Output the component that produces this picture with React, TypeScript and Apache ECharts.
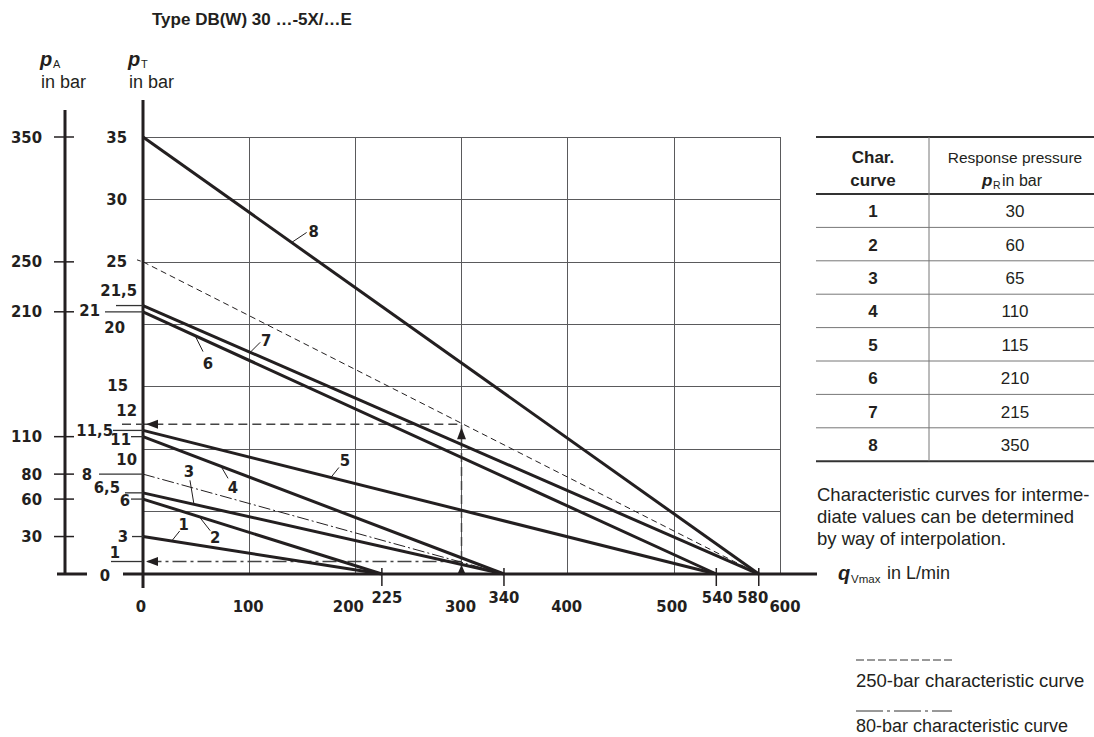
import React, { useEffect, useRef } from "react";
import * as echarts from "echarts";

// ---------------- data ----------------
const curveIds = ["1", "2", "3", "4", "5", "6", "7", "8"];
const curveStartPT = [3, 6, 6.5, 11, 11.5, 21, 21.5, 35];
const curveEndQ = [225, 225, 340, 340, 540, 540, 580, 580];
const responsePressure = [30, 60, 65, 110, 115, 210, 215, 350];
const curve250 = [[0, 25], [580, 0]];
const curve80 = [[0, 8], [340, 0]];
const readingQ = 300;
const readingPT250 = 12;
const readingPT80 = 1;
const xTickValues = [0, 100, 200, 300, 400, 500, 600];
const xExtraTickValues = [225, 340, 540, 580];
const pTLabelValues = [35, 30, 25, 21.5, 21, 20, 15, 12, 11.5, 11, 10, 8, 6.5, 6, 3, 1, 0];
const pTLabelTexts = ["35", "30", "25", "21,5", "21", "20", "15", "12", "11,5", "11", "10", "8", "6,5", "6", "3", "1", "0"];
const pALabelValues = [350, 250, 210, 110, 80, 60, 30];
const pTLeaderValues = [21.5, 21, 11.5, 11, 8, 6.5, 6, 3, 1];
const curveLabelAnchorQ = [27, 53, 48, 73.5, 177, 49, 101, 140];
const noteLines = [
  "Characteristic curves for interme-",
  "diate values can be determined",
  "by way of interpolation.",
];

// ---------------- layout / style ----------------
const INK = "#231f20";
const GRIDC = "#5a5a5c";
const NUMFONT = '"DejaVu Sans Condensed", "Liberation Sans Narrow", Roboto, sans-serif';
const TXTFONT = '"Liberation Sans", Arial, Helvetica, sans-serif';
const xLabelDx = [-2, -1, -7, -1, -1, -2, 5];
const xExtraDx = [5, 0, 1, -6];
const pTLabelRight = [127, 127, 127, 137, 100, 125, 128, 137, 113, 131, 137, 92, 120, 130, 128, 120, 110];
const pTLabelDy = [0, 0, 0, -15, -1, 3, -1, -14, 0, 3, 10, 0, -5, 1, 0, -9, 1];
const pTLeaderFromX = [116, 105, 113, 131, 99, 125, 131, 132, 111];
const curveLeaderEnd = [[8, -10], [11, 14], [-4, -24], [7, 12], [8, -10], [8, 16], [10, -10], [15, -10]];
const curveLabelPos = [[12, -17], [16, 21], [-5, -33], [12, 21], [14, -17], [13, 28], [16, -12], [22, -11]];

export default function App() {
  const ref = useRef<HTMLDivElement>(null);
  useEffect(() => {
    document.body.style.margin = "0";
    const chart = echarts.init(ref.current!, null, { renderer: "svg" });

    const curveSeries = curveIds.map((id, i) => ({
      name: "curve " + id,
      type: "line",
      data: [[0, curveStartPT[i]], [curveEndQ[i], 0]],
      symbol: "none",
      silent: true,
      z: 5,
      lineStyle: { color: INK, width: 3 },
    }));

    chart.setOption({
      animation: false,
      backgroundColor: "#ffffff",
      grid: { left: 143, top: 137, width: 637, height: 437 },
      xAxis: {
        type: "value",
        min: 0,
        max: 600,
        interval: 100,
        axisLine: { show: false },
        axisTick: { show: false },
        axisLabel: { show: false },
        splitLine: { show: true, lineStyle: { color: GRIDC, width: 1 } },
      },
      yAxis: [
        {
          type: "value",
          min: 0,
          max: 35,
          interval: 5,
          axisLine: { show: false },
          axisTick: { show: false },
          axisLabel: { show: false },
          splitLine: { show: true, lineStyle: { color: GRIDC, width: 1 } },
        },
        {
          type: "value",
          min: 0,
          max: 350,
          position: "left",
          offset: 78,
          axisLine: { show: false },
          axisTick: { show: false },
          axisLabel: { show: false },
          splitLine: { show: false },
        },
      ],
      series: [
        ...curveSeries,
        {
          name: "250-bar",
          type: "line",
          data: curve250,
          symbol: "none",
          silent: true,
          z: 4,
          lineStyle: { color: INK, width: 1, type: [6, 4] },
        },
        {
          name: "80-bar",
          type: "line",
          data: curve80,
          symbol: "none",
          silent: true,
          z: 4,
          lineStyle: { color: INK, width: 1, type: [12, 3, 2, 3] },
        },
        {
          name: "reading 250",
          type: "line",
          data: [[readingQ, 0], [readingQ, readingPT250], [0, readingPT250]],
          symbol: "none",
          silent: true,
          z: 3,
          lineStyle: { color: "#444", width: 1.5, type: [9, 5] },
        },
        {
          name: "reading 80",
          type: "line",
          data: [[readingQ, readingPT80], [0, readingPT80]],
          symbol: "none",
          silent: true,
          z: 3,
          lineStyle: { color: "#444", width: 1.5, type: [14, 4, 3, 4] },
        },
      ],
    });

    const P = (x: number, y: number) => chart.convertToPixel({ gridIndex: 0 }, [x, y]) as number[];
    const PA = (v: number) => chart.convertToPixel({ yAxisIndex: 1 }, v) as number;

    const els: any[] = [];
    const line = (x1: number, y1: number, x2: number, y2: number, w: number, stroke = INK, dash?: number[]) =>
      els.push({
        type: "line",
        z: 100,
        shape: { x1, y1, x2, y2 },
        style: { stroke, lineWidth: w, lineDash: dash },
        silent: true,
      });
    const text = (
      t: string,
      x: number,
      y: number,
      o: { align?: string; size?: number; weight?: string; family?: string; style?: string; va?: string } = {}
    ) =>
      els.push({
        type: "text",
        z: 100,
        x,
        y,
        silent: true,
        style: {
          text: t,
          fill: INK,
          fontSize: o.size ?? 16.5,
          fontWeight: o.weight ?? "bold",
          fontStyle: o.style ?? "normal",
          fontFamily: o.family ?? NUMFONT,
          textAlign: o.align ?? "center",
          textVerticalAlign: o.va ?? "middle",
        },
      });
    const tri = (pts: number[][]) =>
      els.push({ type: "polygon", z: 101, silent: true, shape: { points: pts }, style: { fill: INK } });

    const origin = P(0, 0);
    const top35 = P(0, 35);
    const x600 = P(600, 0);

    // axes
    line(origin[0] - 20, origin[1], x600[0] + 37, origin[1], 3);
    line(origin[0], top35[1] - 37, origin[0], origin[1] + 14, 3);
    const pAx = origin[0] - 78;
    line(pAx, PA(350) - 27, pAx, PA(0), 3);
    line(pAx - 8, PA(0), pAx + 22, PA(0), 3);
    pALabelValues.forEach((v) => {
      const y = PA(v);
      line(pAx - 11, y, pAx + 9, y, 1.5);
      text(String(v), pAx - 23, y, { align: "right" });
    });

    // x labels
    xTickValues.forEach((v, i) => {
      const p = P(v, 0);
      text(String(v), p[0] + xLabelDx[i], p[1] + 32);
    });
    xExtraTickValues.forEach((v, i) => {
      const p = P(v, 0);
      line(p[0], p[1] - 6, p[0], p[1] + 12, 1.5);
      text(String(v), p[0] + xExtraDx[i], p[1] + 23);
    });

    // pT labels
    pTLabelValues.forEach((v, i) => {
      const p = P(0, v);
      text(pTLabelTexts[i], pTLabelRight[i], p[1] + pTLabelDy[i], { align: "right" });
    });
    pTLeaderValues.forEach((v, i) => {
      const p = P(0, v);
      line(pTLeaderFromX[i], p[1], p[0], p[1], 1.3, "#333");
    });
    {
      const p25 = P(0, curve250[0][1]);
      line(p25[0] - 6, p25[1] - 2, p25[0], p25[1], 1, INK, [4, 3]);
      const p12 = P(0, readingPT250);
      line(p12[0] - 21, p12[1], p12[0], p12[1], 1.5, "#444", [9, 5]);
    }

    // arrow heads
    {
      const a = P(0, readingPT250);
      tri([[a[0] + 3, a[1]], [a[0] + 15, a[1] - 4.5], [a[0] + 15, a[1] + 4.5]]);
      const b = P(0, readingPT80);
      tri([[b[0] + 3, b[1]], [b[0] + 15, b[1] - 4.5], [b[0] + 15, b[1] + 4.5]]);
      const c = P(readingQ, readingPT250);
      tri([[c[0], c[1] + 3], [c[0] - 4.5, c[1] + 15], [c[0] + 4.5, c[1] + 15]]);
      const d = P(readingQ, 0);
      tri([[d[0], d[1] - 9], [d[0] - 4.5, d[1] + 1], [d[0] + 4.5, d[1] + 1]]);
    }

    // curve labels
    curveIds.forEach((id, i) => {
      const q = curveLabelAnchorQ[i];
      const pt = curveStartPT[i] * (1 - q / curveEndQ[i]);
      const a = P(q, pt);
      const e = curveLeaderEnd[i];
      line(a[0], a[1], a[0] + e[0], a[1] + e[1], 1, INK);
      const l = curveLabelPos[i];
      text(id, a[0] + l[0], a[1] + l[1]);
    });

    // axis titles
    text("Type DB(W) 30 …-5X/…E", 152, 19, { align: "left", size: 17, family: TXTFONT });
    const axisTitle = (x: number, sub: string) => {
      text("p", x, 59, { align: "left", size: 20, style: "italic", family: TXTFONT });
      text(sub, x + 13, 64, { align: "left", size: 11, weight: "normal", family: TXTFONT });
      text("in bar", x + 1, 82, { align: "left", size: 18, weight: "normal", family: TXTFONT });
    };
    axisTitle(40, "A");
    axisTitle(128, "T");

    // qVmax
    const qy = origin[1];
    text("q", 838, qy - 1, { align: "left", size: 20, style: "italic", family: TXTFONT });
    text("Vmax", 851, qy + 5, { align: "left", size: 11.5, weight: "normal", family: TXTFONT });
    text("in L/min", 887, qy - 1, { align: "left", size: 18, weight: "normal", family: TXTFONT });

    // table
    const tL = 816, tR = 1094, tMid = 929, tTop = 137, tHead = 194, rowH = 33.4;
    const c1 = 873, c2 = 1015;
    line(tL, tTop, tR, tTop, 2, "#333");
    line(tL, tHead, tR, tHead, 2, "#333");
    const tBot = tHead + rowH * curveIds.length;
    for (let i = 1; i < curveIds.length; i++) line(tL, tHead + rowH * i, tR, tHead + rowH * i, 1, "#777");
    line(tL, tBot, tR, tBot, 2, "#333");
    line(tMid, tTop, tMid, tBot, 1, "#777");
    text("Char.", c1, 157, { size: 17, family: TXTFONT });
    text("curve", c1, 180, { size: 17, family: TXTFONT });
    text("Response pressure", c2, 157, { size: 15.5, weight: "normal", family: TXTFONT });
    text("p", 982, 180, { align: "left", size: 17, style: "italic", family: TXTFONT });
    text("R", 993, 185, { align: "left", size: 10.5, weight: "normal", family: TXTFONT });
    text("in bar", 1002, 180, { align: "left", size: 16, weight: "normal", family: TXTFONT });
    curveIds.forEach((id, i) => {
      const y = tHead + rowH * i + rowH / 2 + 1;
      text(id, c1, y, { size: 17, family: TXTFONT });
      text(String(responsePressure[i]), c2, y, { size: 17, weight: "normal", family: TXTFONT });
    });
    noteLines.forEach((s, i) => {
      text(s, 817, 494 + i * 22, { align: "left", size: 18.5, weight: "normal", family: TXTFONT });
    });

    // line-type legend
    line(856, 660, 952, 660, 1, "#333", [8, 3]);
    text("250-bar characteristic curve", 856, 680, { align: "left", size: 18.5, weight: "normal", family: TXTFONT });
    line(856, 711, 952, 711, 1, "#333", [27, 4, 3, 4]);
    text("80-bar characteristic curve", 856, 726, { align: "left", size: 18, weight: "normal", family: TXTFONT });

    chart.setOption({ graphic: { elements: els } });
    return () => chart.dispose();
  }, []);
  return <div ref={ref} style={{ width: 1094, height: 737 }} />;
}
